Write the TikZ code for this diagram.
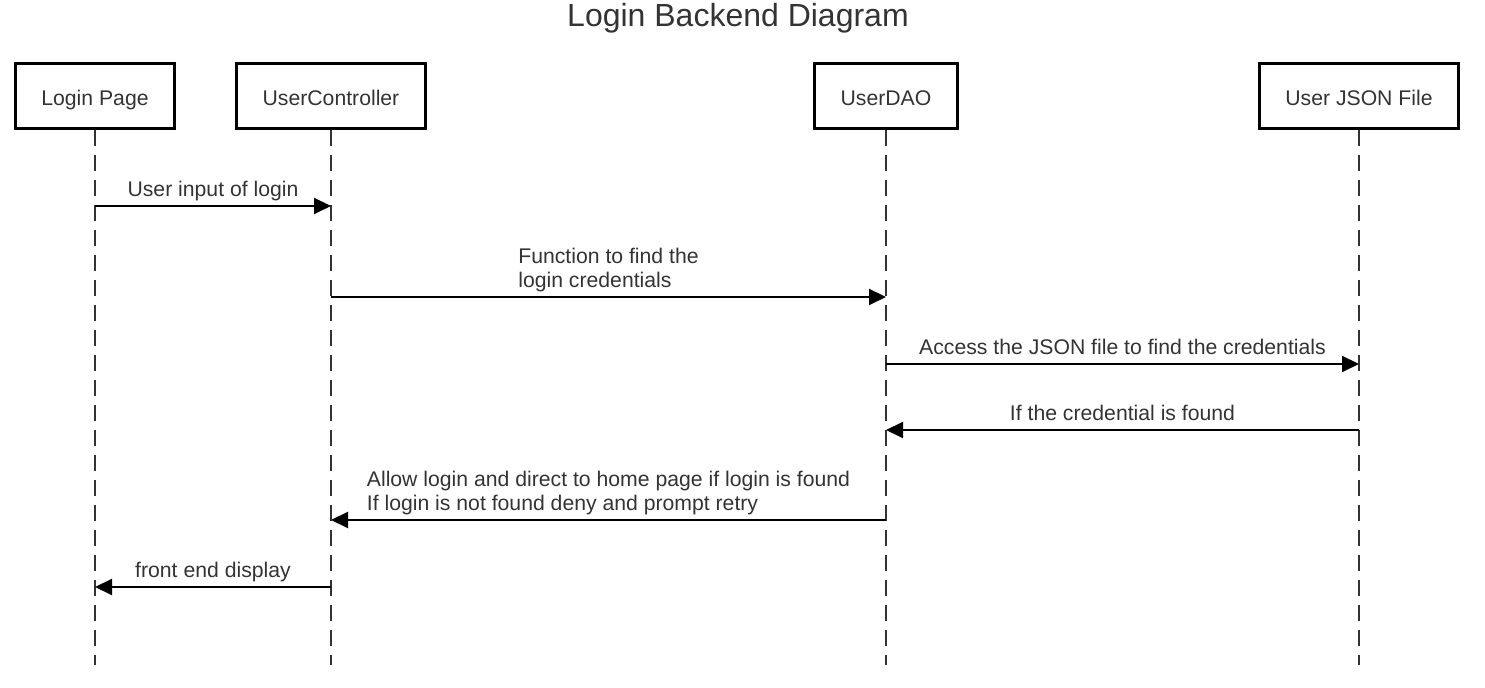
\documentclass[tikz,border=0pt]{standalone}
\usepackage{fontspec}
\setmainfont{Liberation Sans}
\usetikzlibrary{arrows.meta}
\definecolor{ink}{HTML}{333333}
\tikzset{
	actor/.style={rectangle,draw,line width=1.5pt,minimum height=32.5pt,inner xsep=13pt,text height=9.3pt,text depth=0.4pt,text=ink,font=\fontsize{10.6}{12}\selectfont},
	lifeline/.style={draw=ink,line width=0.8pt,dash pattern=on 8pt off 4.5pt},
	msg/.style={draw,line width=1pt,-{Triangle[length=8.5pt,width=8pt]}},
	msglabel/.style={above,align=left,inner ysep=2.2pt,text depth=2.2pt,text=ink,font=\fontsize{10.6}{12}\selectfont},
}
\begin{document}
\begin{tikzpicture}[x=0.5pt,y=-0.5pt]
				\useasboundingbox (0,0) rectangle (1485,688);
				\node[anchor=base,text=ink,font=\fontsize{16}{19}\selectfont] (title) at (738,27) {Login Backend Diagram};
				\node[actor] (page) at (95,96.5) {Login Page};
				\node[actor] (ctrl) at (331,96.5) {UserController};
				\node[actor] (dao) at (886,96.5) {UserDAO};
				\node[actor] (json) at (1359,96.5) {User JSON File};
				\coordinate (pageEnd) at (page.south |- 0,665);
				\coordinate (ctrlEnd) at (ctrl.south |- 0,665);
				\coordinate (daoEnd) at (dao.south |- 0,665);
				\coordinate (jsonEnd) at (json.south |- 0,665);
				\path[lifeline] (page.south) -- (pageEnd);
				\path[lifeline] (ctrl.south) -- (ctrlEnd);
				\path[lifeline] (dao.south) -- (daoEnd);
				\path[lifeline] (json.south) -- (jsonEnd);
				\path[msg] (page |- 0,206) to node[msglabel]{User input of login} (ctrl |- 0,206);
				\path[msg] (ctrl |- 0,297) to node[msglabel]{Function to find the\\login credentials} (dao |- 0,297);
				\path[msg] (dao |- 0,364) to node[msglabel]{Access the JSON file to find the credentials} (json |- 0,364);
				\path[msg] (json |- 0,430) to node[msglabel]{If the credential is found} (dao |- 0,430);
				\path[msg] (dao |- 0,520) to node[msglabel]{Allow login and direct to home page if login is found\\If login is not found deny and prompt retry} (ctrl |- 0,520);
				\path[msg] (ctrl |- 0,587) to node[msglabel]{front end display} (page |- 0,587);
			\end{tikzpicture}
\end{document}
